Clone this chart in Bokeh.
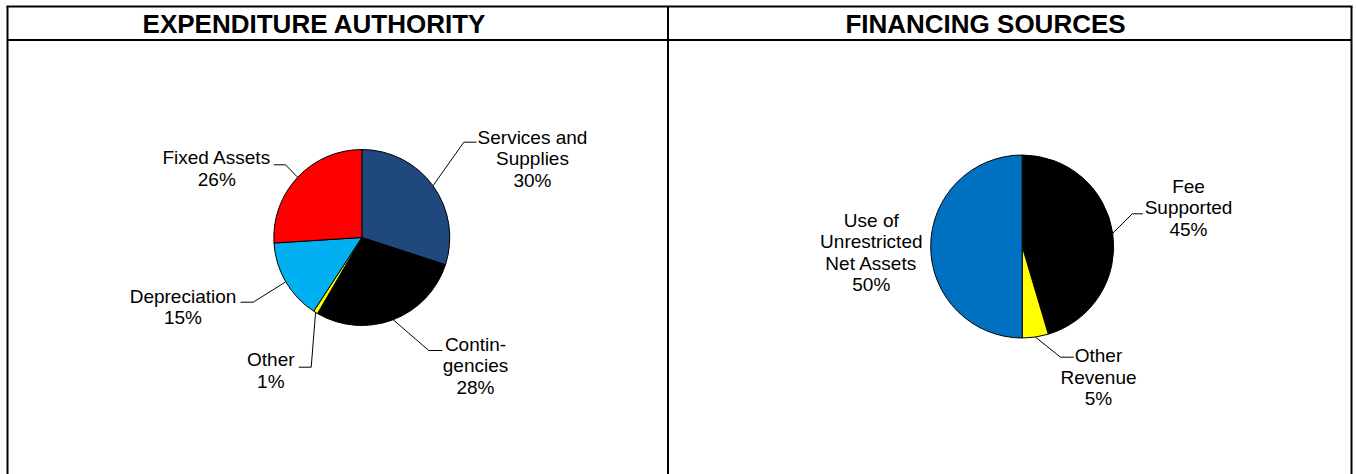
import math
from bokeh.plotting import figure
from bokeh.models import Range1d, ColumnDataSource
from bokeh.embed import file_html
from bokeh.resources import INLINE
from bokeh.core.properties import value

# ---------------- data ----------------
titles = ["EXPENDITURE AUTHORITY", "FINANCING SOURCES"]

exp_categories = ["Services and Supplies", "Contingencies", "Other", "Depreciation", "Fixed Assets"]
exp_label_lines = [["Services and", "Supplies"], ["Contin-", "gencies"], ["Other"], ["Depreciation"], ["Fixed Assets"]]
exp_values = [30.0, 28.4, 0.8, 14.8, 26.0]
exp_colors = ["#1F497D", "#000000", "#FFFF00", "#00B0F0", "#FF0000"]

fin_categories = ["Fee Supported", "Other Revenue", "Use of Unrestricted Net Assets"]
fin_label_lines = [["Fee", "Supported"], ["Other", "Revenue"], ["Use of", "Unrestricted", "Net Assets"]]
fin_values = [45.4, 4.6, 50.0]
fin_colors = ["#000000", "#FFFF00", "#0070C0"]

# ---------------- layout (page pixel coords) ----------------
W, H = 1356, 474
IMG_H = 474


def Y(iy):
    return IMG_H - iy


FONT = value("Liberation Sans")
LABEL_SIZE = "19px"
LINE_STEP = 21.3

p = figure(width=W, height=H, output_backend="svg", toolbar_location=None,
           x_range=Range1d(0, W), y_range=Range1d(0, H),
           min_border=0, outline_line_color=None, background_fill_color="white",
           border_fill_color="white")
p.axis.visible = False
p.grid.visible = False

# frame lines
fx0, fx1, fy0, fy1 = [7, 1351, 6, 480]
hy, dx = 39.5, 667.5
p.segment(x0=[fx0, fx1, fx0 - 1, fx0, dx], y0=[Y(fy0), Y(fy0), Y(fy0), Y(hy), Y(fy0)],
          x1=[fx0, fx1, fx1 + 1, fx1, dx], y1=[Y(fy1), Y(fy1), Y(fy0), Y(hy), Y(fy1)],
          line_color="black", line_width=2)

# titles
p.text(x=[314, 985], y=[Y(23), Y(23)], text=titles, text_align="center",
       text_baseline="middle", text_font=FONT, text_font_size="26px",
       text_font_style="bold", text_color="black")


def draw_pie(values, colors, lines, cx, cy, r, label_pos, leaders):
    total = float(sum(values))
    cum = 0.0
    starts, ends, mids = [], [], []
    for v in values:
        a0 = cum / total
        cum += v
        a1 = cum / total
        starts.append(math.pi / 2 - a0 * 2 * math.pi)
        ends.append(math.pi / 2 - a1 * 2 * math.pi)
        mids.append((a0 + a1) / 2 * 2 * math.pi)
    src = ColumnDataSource(dict(x=[cx] * len(values), y=[Y(cy)] * len(values),
                                start=starts, end=ends, color=colors))
    p.wedge(x="x", y="y", radius=r, start_angle="start", end_angle="end",
            direction="clock", fill_color="color", line_color="black",
            line_width=1, source=src)
    # labels
    tx, ty, tt = [], [], []
    for i, v in enumerate(values):
        txt = lines[i] + [f"{round(100 * v / total)}%"]
        lx, ly = label_pos[i]
        for k, t in enumerate(txt):
            tx.append(lx)
            ty.append(Y(ly + k * LINE_STEP))
            tt.append(t)
    p.text(x=tx, y=ty, text=tt, text_align="center", text_baseline="middle",
           text_font=FONT, text_font_size=LABEL_SIZE, text_color="black")
    # leader lines
    xs, ys = [], []
    for i, ld in enumerate(leaders):
        if ld is None:
            continue
        m = mids[i]
        sx = cx + r * math.sin(m)
        sy = cy - r * math.cos(m)
        (ex, ey), (hx, hy2) = ld
        xs.append([sx, ex, hx])
        ys.append([Y(sy), Y(ey), Y(hy2)])
    p.multi_line(xs=xs, ys=ys, line_color="black", line_width=1)


draw_pie(exp_values, exp_colors, exp_label_lines, 361.3, 237.0, 88.0,
         [(532, 137), (475, 344), (270.3, 359.3), (182.5, 295.7), (216.3, 157.3)],
         [((463.3, 141.7), (476, 141.7)),
          ((428.3, 350), (441.7, 350)),
          ((310.7, 366.7), (298.3, 366.7)),
          ((252.7, 301.7), (240, 301.7)),
          ((285, 164.3), (273.3, 164.3))])

draw_pie(fin_values, fin_colors, fin_label_lines, 1021.7, 246.0, 91.5,
         [(1188, 186), (1098, 355.3), (870.8, 220)],
         [((1131.7, 213.3), (1142.3, 213.3)),
          ((1060, 356.7), (1073.3, 356.7)),
          None])

open("out.html", "w").write(file_html(p, INLINE))
